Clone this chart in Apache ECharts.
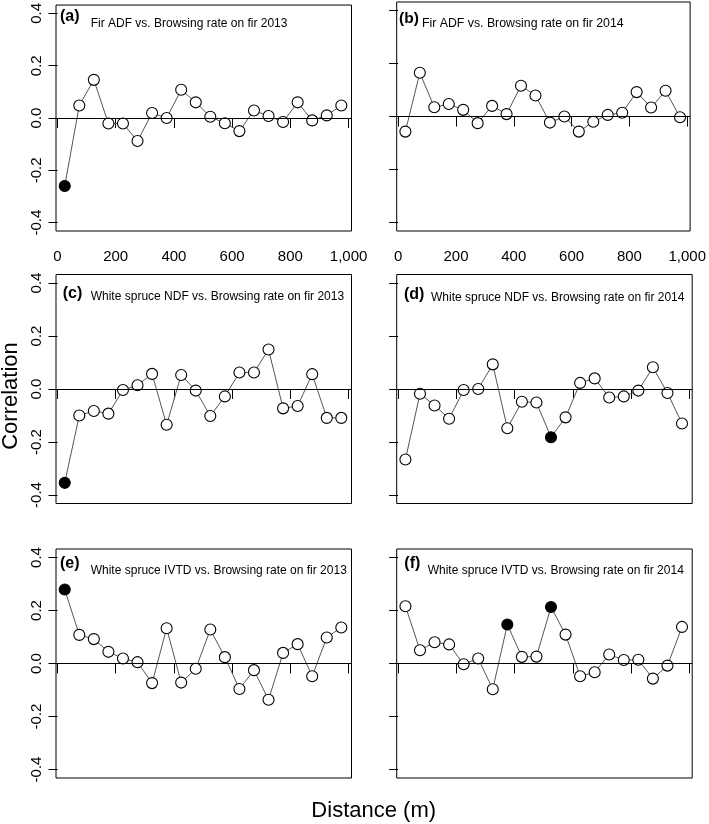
<!DOCTYPE html>
<html>
<head>
<meta charset="utf-8">
<script src="https://cdn.jsdelivr.net/npm/echarts@6/dist/echarts.min.js"></script>
<style>
html,body{margin:0;padding:0;background:#fff;}
#chart{width:709px;height:824px;}
</style>
</head>
<body>
<div id="chart"></div>
<script>
// ---- data ----
const distances = [25,75,125,175,225,275,325,375,425,475,525,575,625,675,725,775,825,875,925,975];
const firADF2013 = [-0.260,0.048,0.146,-0.021,-0.021,-0.088,0.019,0.000,0.108,0.060,0.005,-0.020,-0.050,0.029,0.008,-0.015,0.060,-0.009,0.010,0.048];
const firADF2014 = [-0.057,0.165,0.035,0.047,0.025,-0.025,0.040,0.009,0.116,0.079,-0.023,0.000,-0.057,-0.020,0.006,0.014,0.092,0.034,0.097,-0.003];
const spruceNDF2013 = [-0.354,-0.100,-0.083,-0.093,-0.004,0.014,0.057,-0.135,0.053,-0.006,-0.102,-0.028,0.062,0.062,0.149,-0.073,-0.064,0.056,-0.109,-0.109];
const spruceNDF2014 = [-0.266,-0.018,-0.062,-0.112,-0.004,0.000,0.093,-0.148,-0.048,-0.051,-0.182,-0.107,0.023,0.040,-0.032,-0.028,-0.006,0.082,-0.015,-0.130];
const spruceIVTD2013 = [0.279,0.108,0.092,0.044,0.019,0.005,-0.074,0.133,-0.072,-0.020,0.128,0.024,-0.096,-0.025,-0.137,0.040,0.073,-0.048,0.098,0.136];
const spruceIVTD2014 = [0.216,0.050,0.080,0.072,-0.003,0.019,-0.097,0.147,0.025,0.026,0.213,0.109,-0.048,-0.033,0.034,0.013,0.014,-0.057,-0.008,0.138];
// indices of significant (filled) points
const sigFirADF2013 = [0];
const sigFirADF2014 = [];
const sigSpruceNDF2013 = [0];
const sigSpruceNDF2014 = [10];
const sigSpruceIVTD2013 = [0];
const sigSpruceIVTD2014 = [7,10];
const panelLabels = ['(a)','(b)','(c)','(d)','(e)','(f)'];
const panelTitles = [
  'Fir ADF vs. Browsing rate on fir 2013',
  'Fir ADF vs. Browsing rate on fir 2014',
  'White spruce NDF vs. Browsing rate on fir 2013',
  'White spruce NDF vs. Browsing rate on fir 2014',
  'White spruce IVTD vs. Browsing rate on fir 2013',
  'White spruce IVTD vs. Browsing rate on fir 2014'
];
const xTicks = [0,200,400,600,800,1000];
const yTicks = [-0.4,-0.2,0,0.2,0.4];
const xAxisTitle = 'Distance (m)';
const yAxisTitle = 'Correlation';

// ---- layout ----
const FONT = '"Liberation Sans", Arial, Helvetica, sans-serif';
const colLeft = [56, 396.7];
const rowTop = [2, 274.5, 549];
const W = 295.5, H = 229;
const seriesValues = [firADF2013, firADF2014, spruceNDF2013, spruceNDF2014, spruceIVTD2013, spruceIVTD2014];
const seriesSig = [sigFirADF2013, sigFirADF2014, sigSpruceNDF2013, sigSpruceNDF2014, sigSpruceIVTD2013, sigSpruceIVTD2014];
const labelPos = [[60,17,16],[399,19,15.5],[62.7,294,16],[404,295,16],[60,564,16],[404.3,563.5,16]];
const titlePos = [[90.7,23.5,12],[422,23.5,12.3],[90.7,297,12],[431,297.5,12],[90.7,571,12],[427.7,571,12]];

const fmtX = v => v >= 1000 ? Math.floor(v/1000) + ',' + String(v%1000).padStart(3,'0') : String(v);
const fmtY = v => v.toFixed(1);

const grids = [], xAxes = [], yAxes = [], series = [], graphics = [];
for (let i = 0; i < 6; i++) {
  const c = i % 2, r = Math.floor(i / 2);
  grids.push({left: colLeft[c], top: rowTop[r], width: W, height: H, show: true,
    borderColor: '#000', borderWidth: 1, backgroundColor: 'transparent'});
  xAxes.push({type: 'value', gridIndex: i, min: -5, max: 1010,
    axisLine: {show: false}, splitLine: {show: false},
    axisTick: {show: true, inside: false, length: 10, customValues: xTicks, lineStyle: {color: '#000', width: 1}},
    axisLabel: {show: r === 0, customValues: xTicks, margin: 18, fontSize: 15, color: '#000', fontFamily: FONT, formatter: fmtX}
  });
  yAxes.push({type: 'value', gridIndex: i, min: -0.432, max: 0.432,
    axisLine: {show: false}, splitLine: {show: false},
    axisTick: {show: true, inside: false, length: 9, customValues: yTicks, lineStyle: {color: '#000', width: 1}},
    axisLabel: {show: c === 0, customValues: yTicks, rotate: 90, margin: 12, fontSize: 15, color: '#000', fontFamily: FONT, formatter: fmtY}
  });
  const vals = seriesValues[i], sig = seriesSig[i];
  const data = distances.map((d, k) => sig.indexOf(k) >= 0
    ? {value: [d, vals[k]], itemStyle: {color: '#000'}}
    : [d, vals[k]]);
  series.push({type: 'line', xAxisIndex: i, yAxisIndex: i, data: data,
    symbol: 'circle', symbolSize: 11, showSymbol: true,
    lineStyle: {color: '#555', width: 1},
    itemStyle: {color: '#fff', borderColor: '#000', borderWidth: 1.1},
    emphasis: {disabled: true},
    markLine: {silent: true, symbol: ['none','none'], label: {show: false},
      lineStyle: {color: '#000', width: 1.2, type: 'solid'},
      data: [{yAxis: 0}], animation: false}
  });
  graphics.push({type: 'text', x: labelPos[i][0], y: labelPos[i][1], z: 10,
    style: {text: panelLabels[i], font: 'bold ' + labelPos[i][2] + 'px ' + FONT, fill: '#000', align: 'left', verticalAlign: 'middle'}});
  graphics.push({type: 'text', x: titlePos[i][0], y: titlePos[i][1], z: 10,
    style: {text: panelTitles[i], font: titlePos[i][2] + 'px ' + FONT, fill: '#000', align: 'left', verticalAlign: 'middle'}});
}
graphics.push({type: 'text', x: 373.7, y: 811, z: 10,
  style: {text: xAxisTitle, font: '22px ' + FONT, fill: '#000', align: 'center', verticalAlign: 'middle'}});
graphics.push({type: 'text', x: 11, y: 396, rotation: Math.PI / 2, z: 10,
  style: {text: yAxisTitle, font: '22px ' + FONT, fill: '#000', align: 'center', verticalAlign: 'middle'}});

const chart = echarts.init(document.getElementById('chart'), null, {renderer: 'canvas'});
chart.setOption({animation: false, backgroundColor: '#fff', grid: grids, xAxis: xAxes, yAxis: yAxes, series: series, graphic: graphics});
</script>
</body>
</html>
